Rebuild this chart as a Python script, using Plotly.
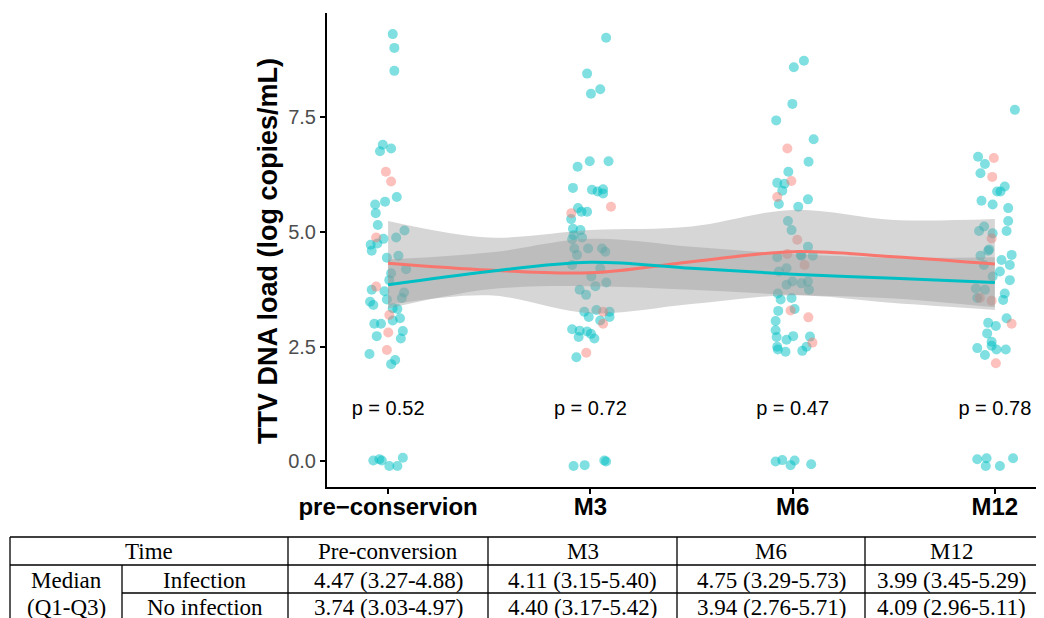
import plotly.graph_objects as go

# ---------------- data ----------------
categories = ["pre\u2212conservion", "M3", "M6", "M12"]
cat_pos = [1, 2, 3, 4]
p_values = ["p = 0.52", "p = 0.72", "p = 0.47", "p = 0.78"]
p_label_y = 1.12

# jittered points, No infection (teal)
noinf_x = [
    1.023, 1.031, 1.031, 0.974, 0.960, 1.015, 1.043, 0.936, 0.985, 0.939, 0.949, 1.081, 1.040, 0.977,
    0.947, 0.914, 0.919, 0.994, 1.051, 1.089, 1.015, 1.006, 0.919, 0.982, 1.079, 1.068, 0.994, 0.911,
    0.927, 1.023, 1.046, 1.059, 1.023, 0.932, 0.965, 1.073, 0.944, 1.063, 0.908, 1.035, 1.015,
    0.927, 0.957, 0.969, 1.006, 1.046, 1.073,
    2.078, 1.984, 2.049, 2.003, 1.997, 2.090, 1.937, 1.914, 2.008, 2.036, 2.063, 2.063, 1.939, 1.956,
    1.984, 1.905, 1.914, 1.951, 1.917, 1.959, 1.910, 1.921, 1.989, 2.058, 2.074, 1.934, 1.910, 2.049,
    2.005, 2.079, 2.025, 1.947, 1.979, 1.970, 1.992, 2.030, 2.095, 2.095, 2.049, 1.910, 1.947, 1.984,
    2.003, 1.942, 2.020, 1.931,
    1.917, 1.972, 2.078, 2.069,
    3.056, 3.006, 2.999, 2.919, 3.104, 3.079, 2.979, 2.924, 2.960, 2.949, 2.932, 3.076, 3.028, 2.977,
    2.995, 3.076, 2.924, 3.044, 3.100, 3.040, 2.970, 2.932, 2.999, 2.970, 3.044, 3.076, 3.081, 2.927,
    2.941, 2.995, 3.010, 2.929, 2.916, 2.916, 2.921, 2.970, 3.003, 3.086, 2.924, 2.927, 2.965, 3.048,
    3.069,
    2.916, 2.949, 3.010, 2.990, 3.092,
    4.099, 3.917, 3.951, 3.929, 4.049, 4.011, 4.028, 3.934, 3.989, 4.066, 4.066, 3.922, 3.947, 3.989,
    4.058, 3.972, 3.929, 4.083, 3.967, 4.033, 4.074, 3.946, 4.025, 3.989, 4.074, 3.906, 3.951, 4.049,
    3.913, 4.041, 4.058, 3.967, 4.005, 3.962, 3.984, 3.984, 3.913, 4.008, 4.054, 3.951,
    3.913, 3.959, 3.955, 4.025, 4.090,
]
noinf_y = [
    9.31, 9.01, 8.51, 6.90, 6.76, 6.82, 5.76, 5.60, 5.66, 5.41, 5.15, 5.03, 4.88, 4.85,
    4.75, 4.72, 4.59, 4.44, 4.48, 4.19, 4.10, 3.95, 3.74, 3.71, 3.68, 3.56, 3.53, 3.48,
    3.41, 3.34, 3.32, 3.12, 3.07, 3.00, 3.00, 2.84, 2.73, 2.68, 2.34, 2.21, 2.12,
    0.02, 0.05, 0.02, -0.10, -0.10, 0.08,
    9.23, 8.45, 8.11, 8.01, 6.54, 6.54, 6.42, 5.96, 5.92, 5.88, 5.93, 5.84, 5.52, 5.44,
    5.44, 5.28, 5.07, 5.04, 4.93, 4.88, 4.84, 4.64, 4.64, 4.64, 4.57, 4.50, 4.28, 4.21,
    4.03, 3.90, 3.82, 3.74, 3.63, 3.26, 3.15, 3.30, 3.26, 3.15, 3.07, 2.88, 2.85, 2.83,
    2.78, 2.71, 2.68, 2.27,
    -0.10, -0.08, 0.00, 0.02,
    8.73, 8.59, 7.79, 7.43, 7.02, 6.53, 6.31, 6.07, 6.05, 5.90, 5.61, 5.71, 5.55, 5.24,
    5.04, 4.68, 4.45, 4.48, 4.48, 4.50, 4.21, 4.14, 3.92, 3.85, 3.88, 3.92, 3.74, 3.66,
    3.53, 3.56, 3.32, 3.28, 3.06, 2.86, 2.71, 2.65, 2.73, 2.72, 2.50, 2.44, 2.39, 2.41,
    2.50,
    0.00, 0.03, 0.02, -0.08, -0.06,
    7.66, 6.64, 6.48, 6.28, 5.99, 5.88, 5.88, 5.68, 5.60, 5.52, 5.24, 5.02, 5.12, 4.97,
    5.02, 4.62, 4.48, 4.50, 4.59, 4.39, 4.28, 4.28, 4.14, 4.03, 3.95, 3.77, 3.74, 3.66,
    3.56, 3.52, 3.12, 3.02, 2.95, 2.79, 2.61, 2.52, 2.47, 2.44, 2.44, 2.32,
    0.05, 0.07, -0.10, -0.10, 0.07,
]

# jittered points, Infection (red)
inf_x = [0.989, 1.015, 0.941, 0.941, 1.006, 1.001, 0.994,
         2.102, 1.906, 2.063, 2.063, 1.980,
         2.974, 2.994, 2.924, 3.023, 2.974, 3.059, 2.990, 3.078, 3.098,
         3.995, 3.987, 3.984, 3.984, 3.926, 4.083, 4.005]
inf_y = [6.31, 6.10, 4.88, 3.81, 3.19, 2.81, 2.43,
         5.55, 5.41, 3.26, 3.00, 2.37,
         6.82, 6.11, 5.76, 4.83, 4.52, 4.28, 3.29, 3.14, 2.59,
         6.61, 6.20, 4.86, 3.50, 3.56, 3.00, 2.14]

# smoothed trends with confidence ribbons
smooth_x = [1, 1.5, 2, 2.5, 3, 3.5, 4]
inf_fit = [4.32, 4.17, 4.11, 4.35, 4.57, 4.46, 4.30]
inf_lo = [3.41, 3.62, 3.23, 3.43, 3.62, 3.45, 3.30]
inf_hi = [5.24, 4.88, 5.04, 5.12, 5.48, 5.26, 5.28]
noinf_fit = [3.85, 4.14, 4.34, 4.21, 4.08, 3.99, 3.90]
noinf_lo = [3.33, 3.75, 3.82, 3.74, 3.63, 3.55, 3.36]
noinf_hi = [4.40, 4.55, 4.85, 4.68, 4.52, 4.44, 4.45]

# table
table_header = ["Time", "Pre-conversion", "M3", "M6", "M12"]
row_group = ["Median", "(Q1-Q3)"]
row_labels = ["Infection", "No infection"]
infection_vals = ["4.47 (3.27-4.88)", "4.11 (3.15-5.40)", "4.75 (3.29-5.73)", "3.99 (3.45-5.29)"]
noinfection_vals = ["3.74 (3.03-4.97)", "4.40 (3.17-5.42)", "3.94 (2.76-5.71)", "4.09 (2.96-5.11)"]

# ---------------- figure ----------------
W, H = 1044, 618
OFF = 8  # page body margin in the browser
RED = "#F8766D"
TEAL = "#00BFC4"
RIB = "rgba(153,153,153,0.4)"

def px(x):
    return (x - OFF) / W

def py(y):
    return 1 - (y - OFF) / H

fig = go.Figure()

fig.add_trace(go.Scatter(x=noinf_x, y=noinf_y, mode="markers",
                         marker=dict(color=TEAL, size=10, opacity=0.5, line=dict(width=0))))
fig.add_trace(go.Scatter(x=inf_x, y=inf_y, mode="markers",
                         marker=dict(color=RED, size=10, opacity=0.45, line=dict(width=0))))

for lo, hi in ((inf_lo, inf_hi), (noinf_lo, noinf_hi)):
    fig.add_trace(go.Scatter(x=smooth_x, y=lo, mode="lines",
                             line=dict(width=0, shape="spline", smoothing=1.0), hoverinfo="skip"))
    fig.add_trace(go.Scatter(x=smooth_x, y=hi, mode="lines", fill="tonexty", fillcolor=RIB,
                             line=dict(width=0, shape="spline", smoothing=1.0), hoverinfo="skip"))

fig.add_trace(go.Scatter(x=smooth_x, y=inf_fit, mode="lines",
                         line=dict(color=RED, width=3, shape="spline", smoothing=1.0)))
fig.add_trace(go.Scatter(x=smooth_x, y=noinf_fit, mode="lines",
                         line=dict(color=TEAL, width=3, shape="spline", smoothing=1.0)))

fig.add_trace(go.Scatter(x=cat_pos, y=[p_label_y] * len(cat_pos), mode="text", text=p_values,
                         textposition="middle center", cliponaxis=False,
                         textfont=dict(family="Liberation Sans, Arial", size=20, color="black")))

fig.update_layout(
    width=W, height=H, autosize=False,
    margin=dict(l=0, r=0, t=0, b=0, pad=0, autoexpand=False),
    paper_bgcolor="white", plot_bgcolor="white",
    showlegend=False, hovermode=False,
    xaxis=dict(domain=[px(327), 1], range=[0.698, 4.243 + OFF / 202.3], showgrid=False, zeroline=False,
               automargin=False,
               showline=True, linecolor="black", linewidth=2,
               tickmode="array", tickvals=cat_pos, ticktext=categories,
               ticks="outside", ticklen=5, tickwidth=1.5, tickcolor="black",
               ticklabelstandoff=-8,
               tickfont=dict(family="Liberation Sans, Arial", size=24, color="black", weight="bold")),
    yaxis=dict(domain=[py(487), py(13)], range=[-0.556, 9.77], showgrid=False, zeroline=False,
               automargin=False,
               showline=True, linecolor="black", linewidth=2,
               tickmode="array", tickvals=[0, 2.5, 5, 7.5], ticktext=["0.0", "2.5", "5.0", "7.5"],
               ticks="outside", ticklen=5, tickwidth=1.5, tickcolor="black",
               tickfont=dict(family="Liberation Sans, Arial", size=20, color="#4d4d4d")),
)

annotations = [dict(text="TTV DNA load (log copies/mL)", x=px(268), y=py(251), xref="paper", yref="paper",
                    textangle=-90, showarrow=False, xanchor="center", yanchor="middle",
                    font=dict(family="Liberation Sans, Arial", size=27, color="black", weight="bold"))]

# table geometry (pixels)
t_left, t_right = 10, 1038
t_top, r1, r2, t_bot = 537, 565, 593, 624
c_lbl, cols = 122, [288, 488, 677, 865, 1038]
shapes = []
def hline(y, x0, x1):
    shapes.append(dict(type="line", xref="paper", yref="paper", x0=px(x0), x1=px(x1), y0=py(y), y1=py(y),
                       line=dict(color="black", width=1.3)))
def vline(x, y0, y1):
    shapes.append(dict(type="line", xref="paper", yref="paper", x0=px(x), x1=px(x), y0=py(y0), y1=py(y1),
                       line=dict(color="black", width=1.3)))
hline(t_top, t_left, t_right)
hline(r1, t_left, t_right)
hline(r2, c_lbl, t_right)
vline(t_left, t_top, t_bot)
vline(c_lbl, r1, t_bot)
for c in cols:
    vline(c, t_top, t_bot)

tfont = dict(family="Liberation Serif, Times New Roman", size=23, color="black")
def cell(text, x, y):
    annotations.append(dict(text=text, x=px(x), y=py(y), xref="paper", yref="paper", showarrow=False,
                            xanchor="center", yanchor="middle", font=tfont))

col_edges = [t_left, cols[0], cols[1], cols[2], cols[3], cols[4]]
hy = 551
cell(table_header[0], (t_left + cols[0]) / 2, hy)
for i in range(1, 5):
    cell(table_header[i], (col_edges[i] + col_edges[i + 1]) / 2, hy)
y1 = 580
y2 = 607
cell(row_group[0], (t_left + c_lbl) / 2, y1)
cell(row_group[1], (t_left + c_lbl) / 2, y2)
cell(row_labels[0], (c_lbl + cols[0]) / 2, y1)
cell(row_labels[1], (c_lbl + cols[0]) / 2, y2)
for i in range(4):
    xc = (col_edges[i + 1] + col_edges[i + 2]) / 2
    cell(infection_vals[i], xc, y1)
    cell(noinfection_vals[i], xc, y2)

fig.update_layout(annotations=annotations, shapes=shapes)
fig.write_html("out.html")
